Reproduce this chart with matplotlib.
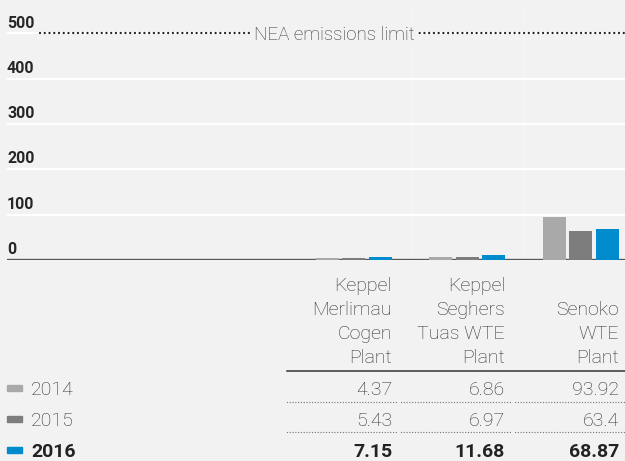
import matplotlib.pyplot as plt
from matplotlib.patches import Rectangle

# Data
plants = ['Keppel\nMerlimau\nCogen\nPlant', 'Keppel\nSeghers\nTuas WTE\nPlant', 'Senoko\nWTE\nPlant']
years = ['2014', '2015', '2016']
values_2014 = [4.37, 6.86, 93.92]
values_2015 = [5.43, 6.97, 63.4]
values_2016 = [7.15, 11.68, 68.87]
value_labels = [['4.37', '6.86', '93.92'], ['5.43', '6.97', '63.4'], ['7.15', '11.68', '68.87']]
y_ticks = [0, 100, 200, 300, 400, 500]
limit_value = 500
limit_label = 'NEA emissions limit'

colors = ['#a9a9a9', '#7d7d7d', '#008ccc']
bg = '#f2f2f2'
W, H = 625, 461

plt.rcParams['font.family'] = ['Roboto', 'DejaVu Sans']

fig = plt.figure(figsize=(W / 100, H / 100), dpi=100, facecolor=bg)

# Chart area (pixel layout -> figure fractions)
base_px, top_px = 260, 10
px_per_unit = 0.453
ax = fig.add_axes([7 / W, (H - base_px) / H, 618 / W, (base_px - top_px) / H])
ax.set_facecolor(bg)
ax.set_ylim(0, (base_px - top_px) / px_per_unit)
ax.set_xlim(-3.057, 2.388)
for s in ax.spines.values():
    s.set_visible(False)
ax.set_xticks([])
ax.set_yticks([])

for v in y_ticks[1:]:
    ax.axhline(v, color='white', lw=1.6, zorder=1)
for xs in [0.5, 1.5]:
    ax.axvline(xs, color='#f5f5f5', lw=1, zorder=0.5)

ax.axhline(0, color='#5b5757', lw=1.7, zorder=4)

series = [values_2014, values_2015, values_2016]
for k, vals in enumerate(series):
    xs = [i + (k - 1) * 0.2335 for i in range(len(vals))]
    ax.bar(xs, vals, width=0.2026, color=colors[k], zorder=5)

for v in y_ticks:
    ax.annotate(str(v), xy=(0, v), xycoords=('axes fraction', 'data'),
                xytext=(0, 4.3), textcoords='offset points', va='baseline',
                ha='left', fontsize=11.5, fontweight='bold', color='#262626')

# NEA limit dotted line
ax.axhline(limit_value, xmin=33 / 618, xmax=1, color='#222222', lw=1.7,
           linestyle=(0, (0.01, 2.0)), dash_capstyle='round', zorder=5)
ax.annotate(limit_label, xy=(0.529, limit_value), xycoords=('axes fraction', 'data'),
            xytext=(0, -4.5), textcoords='offset points', ha='center', va='baseline',
            fontsize=13.5, fontweight='light', color='#333333', zorder=6,
            bbox=dict(fc=bg, ec='none', pad=2.0))

# Table area in pixel coordinates
tax = fig.add_axes([0, 0, 1, 1])
tax.set_xlim(0, W)
tax.set_ylim(H, 0)
tax.axis('off')
tax.patch.set_alpha(0)

col_right = [392, 505, 619]
for name, xr in zip(plants, col_right):
    lines = name.split('\n')
    for j, line in enumerate(reversed(lines)):
        tax.text(xr, 363 - j * 24, line, ha='right', va='baseline',
                 fontsize=14, fontweight='light', color='#2e2e2e')

tax.plot([287, 625], [371, 371], color='#333333', lw=1.1)

row_base = [395, 426, 457]
for r, (yr, labels) in enumerate(zip(years, value_labels)):
    weight = 'bold' if r == 2 else 'light'
    tcolor = '#222222' if r == 2 else '#2e2e2e'
    tax.add_patch(Rectangle((7, row_base[r] - 10), 15, 6, color=colors[r]))
    tax.text(31, row_base[r], yr, ha='left', va='baseline', fontsize=14,
             fontweight=weight, color=tcolor)
    for lab, xr in zip(labels, col_right):
        tax.text(xr, row_base[r], lab, ha='right', va='baseline', fontsize=14,
                 fontweight=weight, color=tcolor)

for yd in [402, 432]:
    for x0, x1 in [(287, 398), (401, 511), (515, 625)]:
        tax.plot([x0, x1], [yd, yd], color='#777777', lw=1.0,
                 linestyle=(0, (0.01, 2.0)), dash_capstyle='round')

fig.savefig('out.png', dpi=100, facecolor=bg)
